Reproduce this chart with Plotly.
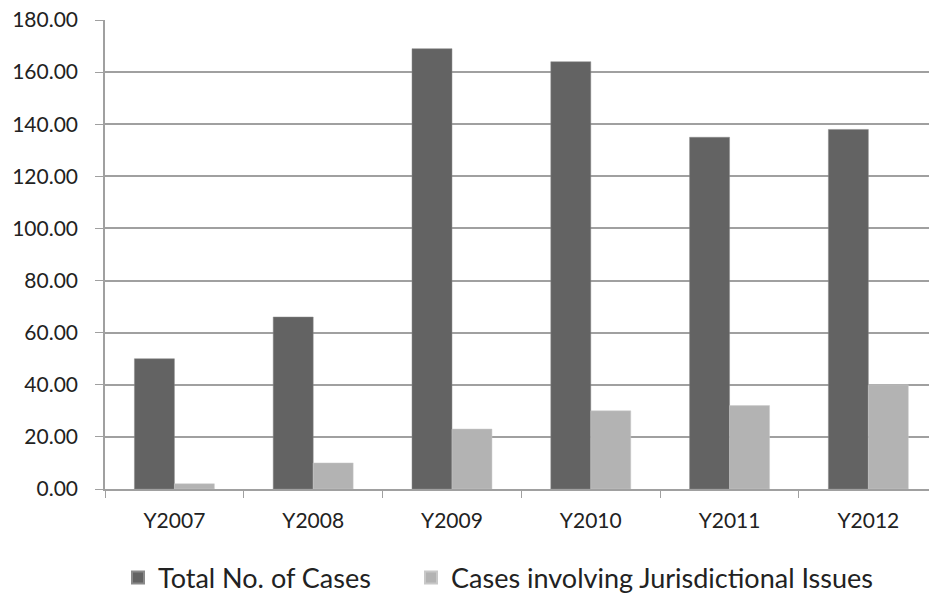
import plotly.graph_objects as go

years = ["Y2007", "Y2008", "Y2009", "Y2010", "Y2011", "Y2012"]
total_cases = [50, 66, 169, 164, 135, 138]
jurisdiction_cases = [2, 10, 23, 30, 32, 40]
y_ticks = [0, 20, 40, 60, 80, 100, 120, 140, 160, 180]

font_family = "Lato, 'Open Sans', sans-serif"
line_grey = "#a0a0a0"
W, H = 929, 594

fig = go.Figure()
fig.add_trace(go.Bar(
    x=years, y=total_cases, name="Total No. of Cases",
    marker=dict(color="#636363", line=dict(color="#8a8a8a", width=0.5)),
    legend="legend",
))
fig.add_trace(go.Bar(
    x=years, y=jurisdiction_cases, name="Cases involving Jurisdictional Issues",
    marker=dict(color="#b3b3b3", line=dict(color="#c8c8c8", width=0.5)),
    legend="legend2",
))

legend_style = dict(
    orientation="h", xref="container", yref="container",
    xanchor="left", yanchor="middle", y=(H - 578) / H,
    font=dict(size=27, color="#222222"),
    itemsizing="constant", itemwidth=30,
    bgcolor="rgba(0,0,0,0)",
)

fig.update_layout(
    width=W, height=H,
    margin=dict(l=105, r=0, t=20, b=105),
    paper_bgcolor="white", plot_bgcolor="white",
    barmode="group", bargap=0.424, bargroupgap=0,
    font=dict(family=font_family, size=21, color="#222222"),
    legend=dict(legend_style, x=118 / W),
    legend2=dict(legend_style, x=411 / W),
    showlegend=True,
)

fig.update_xaxes(
    type="category", range=[-0.5, 5.437],
    showline=True, linecolor=line_grey, linewidth=1.5,
    ticks="outside", tickson="boundaries", ticklen=7, tickcolor=line_grey,
    showgrid=False, tickfont=dict(size=21), ticklabelstandoff=12,
)
fig.update_yaxes(
    range=[0, 180], tickvals=y_ticks,
    ticktext=[f"{v:.2f}" for v in y_ticks],
    showline=True, linecolor=line_grey, linewidth=1.5,
    ticks="outside", ticklen=8, tickcolor=line_grey,
    showgrid=True, gridcolor=line_grey, gridwidth=1.5,
    zeroline=False, tickfont=dict(size=21), ticklabelstandoff=13,
)

fig.write_html("out.html")
